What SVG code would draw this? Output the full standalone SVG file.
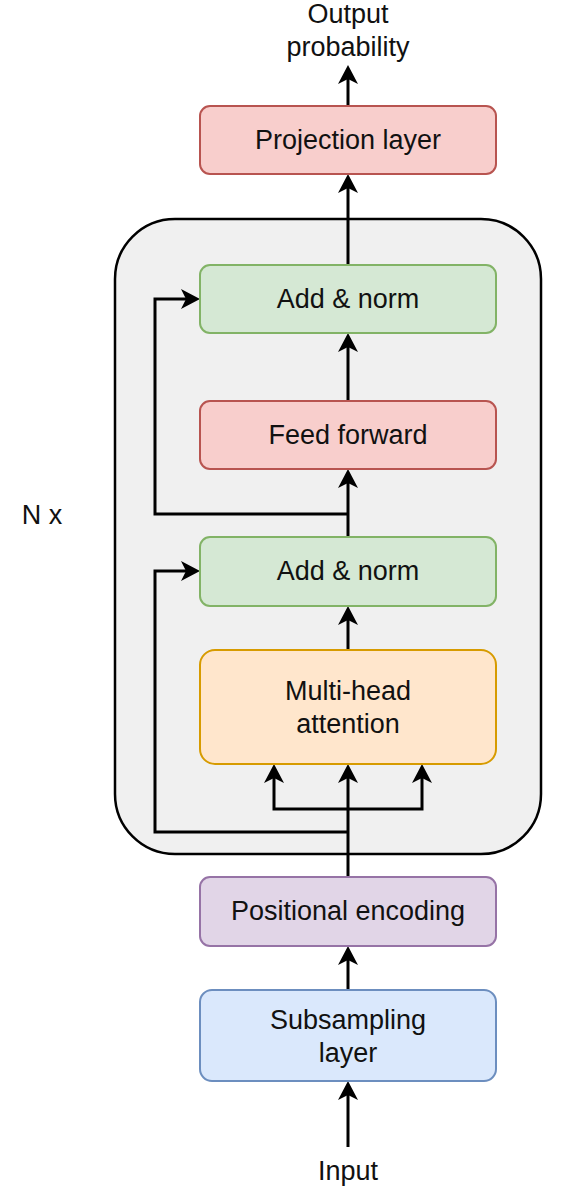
<svg xmlns="http://www.w3.org/2000/svg" width="579" height="1188" viewBox="0 0 579 1188">
  <style>
    .lbl { font-family: "Liberation Sans", Arial, sans-serif; font-size: 27px; fill: #111111; text-anchor: middle; }
    .box { stroke-width: 2; }
    .green { fill: #d5e8d4; stroke: #82b366; }
    .red { fill: #f8cecc; stroke: #b85450; }
    .orange { fill: #ffe6cc; stroke: #d79b00; }
    .purple { fill: #e1d5e7; stroke: #9673a6; }
    .blue { fill: #dae8fc; stroke: #6c8ebf; }
    .conn { fill: none; stroke: #000000; stroke-width: 3; marker-end: url(#arrow); }
  </style>
  <defs>
    <marker id="arrow" markerUnits="userSpaceOnUse" markerWidth="40" markerHeight="40" refX="0" refY="0" orient="auto" overflow="visible" viewBox="-20 -20 40 40">
      <path d="M -9,-10 L 10,0 L -9,10 L -4,0 Z" fill="#000000" stroke="none"/>
    </marker>
  </defs>

  <rect id="white-bg" x="0" y="0" width="579" height="1188" fill="#ffffff"/>

  <g id="container">
    <rect x="115" y="219" width="426" height="635" rx="60" ry="60" fill="#f0f0f0" stroke="#000000" stroke-width="2.5"/>
  </g>

  <g id="n-x-label">
    <text class="lbl" x="42" y="524">N x</text>
  </g>

  <g id="connectors">
    <path class="conn" d="M 348,1147 L 348,1091"/>
    <path class="conn" d="M 348,990 L 348,956"/>
    <path class="conn" d="M 348,877 L 348,774"/>
    <path class="conn" d="M 348,809 L 274,809 L 274,774"/>
    <path class="conn" d="M 348,809 L 422,809 L 422,774"/>
    <path class="conn" d="M 348,832 L 155,832 L 155,571 L 190,571"/>
    <path class="conn" d="M 348,650 L 348,616"/>
    <path class="conn" d="M 348,537 L 348,479"/>
    <path class="conn" d="M 348,514 L 155,514 L 155,299 L 190,299"/>
    <path class="conn" d="M 348,401 L 348,343"/>
    <path class="conn" d="M 348,265 L 348,184"/>
    <path class="conn" d="M 348,106 L 348,75"/>
  </g>

  <g id="output-label">
    <text class="lbl" x="348" y="23">Output</text>
    <text class="lbl" x="348" y="56">probability</text>
  </g>

  <g id="projection-layer">
    <rect class="box red" x="200" y="106" width="296" height="68" rx="10" ry="10"/>
    <text class="lbl" x="348" y="149">Projection layer</text>
  </g>

  <g id="add-norm-1">
    <rect class="box green" x="200" y="265" width="296" height="68" rx="10" ry="10"/>
    <text class="lbl" x="348" y="308">Add &amp; norm</text>
  </g>

  <g id="feed-forward">
    <rect class="box red" x="200" y="401" width="296" height="68" rx="10" ry="10"/>
    <text class="lbl" x="348" y="444">Feed forward</text>
  </g>

  <g id="add-norm-2">
    <rect class="box green" x="200" y="537" width="296" height="69" rx="10" ry="10"/>
    <text class="lbl" x="348" y="580">Add &amp; norm</text>
  </g>

  <g id="multi-head-attention">
    <rect class="box orange" x="200" y="650" width="296" height="114" rx="15" ry="15"/>
    <text class="lbl" x="348" y="700">Multi-head</text>
    <text class="lbl" x="348" y="733">attention</text>
  </g>

  <g id="positional-encoding">
    <rect class="box purple" x="200" y="877" width="296" height="69" rx="10" ry="10"/>
    <text class="lbl" x="348" y="920">Positional encoding</text>
  </g>

  <g id="subsampling-layer">
    <rect class="box blue" x="200" y="990" width="296" height="91" rx="12" ry="12"/>
    <text class="lbl" x="348" y="1029">Subsampling</text>
    <text class="lbl" x="348" y="1062">layer</text>
  </g>

  <g id="input-label">
    <text class="lbl" x="348" y="1180">Input</text>
  </g>
</svg>
